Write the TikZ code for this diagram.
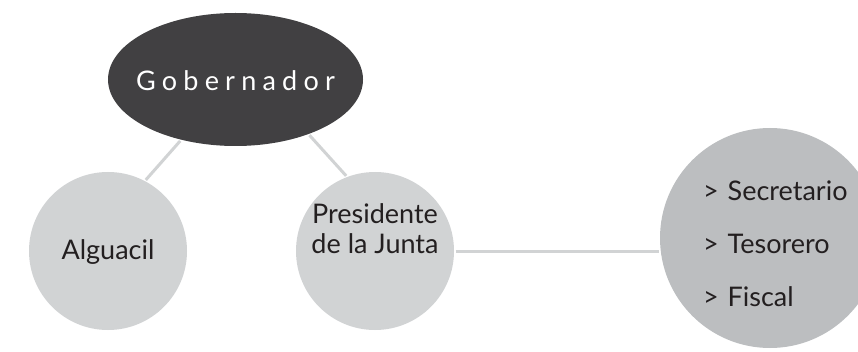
\documentclass[tikz,border=0pt]{standalone}
\usepackage{fontspec}
\setmainfont{Lato}
\newfontfamily\spacedfont[LetterSpace=23]{Lato}
\usetikzlibrary{shapes.geometric}

\definecolor{darkgrey}{HTML}{414042}
\definecolor{lightgrey}{HTML}{D1D3D4}
\definecolor{midgrey}{HTML}{BCBEC0}
\definecolor{ink}{HTML}{231F20}

\hyphenpenalty=10000
\exhyphenpenalty=10000

\begin{document}
\begin{tikzpicture}[x = 1pt, y = 1pt, line width = 3pt,
                        head/.style = {ellipse, fill = darkgrey, text = white, inner sep = 0pt, inner xsep = -30pt,
                                       minimum width = 255pt, minimum height = 133pt,
                                       font = \spacedfont\fontsize{27}{32}\selectfont},
                        member/.style = {circle, fill = lightgrey, text = ink, inner sep = 0pt, minimum size = 158pt,
                                         font = \fontsize{27}{30}\selectfont},
                        group/.style = {circle, fill = midgrey, text = ink, inner sep = 0pt, minimum size = 220pt,
                                        text width = 134pt, align = left, font = \fontsize{27}{53}\selectfont},
                        link/.style = {draw = lightgrey}]
      \useasboundingbox (0, 0) rectangle (858, 351);
      \clip (0, 0) rectangle (858, 351);
      \node [head, text height = 23pt, text depth = 0pt] (g1) at (235.5, 271.5){Gobernador};
      \node [member, text height = 17pt, text depth = 0pt] (c1) at (108, 100){Alguacil};
      \node [member, align = center, text height = 34pt, text depth = 30pt] (c2) at (375, 100){Presidente\\de la Junta};
      \node [group, text height = 31pt, text depth = 107pt] (c3) at (770, 113){>~Secretario\\>~Tesorero\\>~Fiscal};
      \draw [link] (g1.228) -- (c1.62);
      \draw [link] (g1.323) -- (c2.111);
      \draw [link] (c2.east) -- (c2.east -| c3.west);

      \end{tikzpicture}
\end{document}
